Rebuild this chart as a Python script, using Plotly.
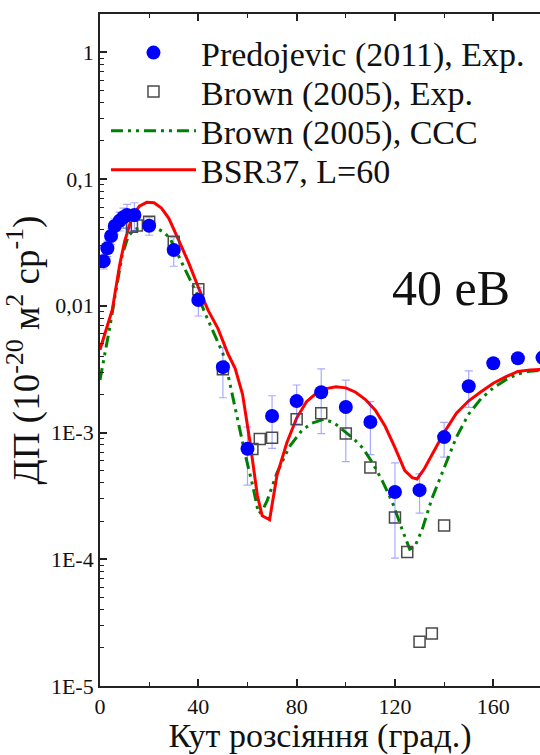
import plotly.graph_objects as go

# ---------------- data ----------------
pred_angle = [1.5, 3, 4.5, 6, 8, 9.5, 11, 14, 20, 30, 40, 50, 60, 70, 80, 90, 100, 110, 120, 130, 140, 150, 160, 170, 180]
pred_dcs = [0.0225, 0.0284, 0.0355, 0.0426, 0.0469, 0.0499, 0.052, 0.052, 0.0428, 0.0275, 0.0111, 3.28e-3,
            7.45e-4, 1.35e-3, 1.77e-3, 2.08e-3, 1.59e-3, 1.21e-3, 3.39e-4, 3.51e-4, 9.2e-4, 2.32e-3,
            3.52e-3, 3.85e-3, 3.9e-3]
pred_err = [0.003, 0.004, 0.005, 0.006, 0.008, 0.009, 0.011, 0.013, 0.0068, 0.007, 0.0028, 0.0014,
            3.6e-4, 6e-4, 6e-4, 1.1e-3, 1.0e-3, 5.4e-4, 2.37e-4, 1.2e-4, 2.8e-4, 7.4e-4, 3e-4, 3e-4, 3e-4]

brown_angle = [13, 15, 20, 30, 40, 50, 62, 65, 70, 80, 90, 100, 110, 120, 125, 130, 135, 140]
brown_dcs = [0.042, 0.043, 0.046, 0.032, 0.0135, 3.15e-3, 7.4e-4, 8.9e-4, 9.1e-4, 1.27e-3, 1.42e-3,
             9.8e-4, 5.3e-4, 2.14e-4, 1.14e-4, 2.23e-5, 2.6e-5, 1.85e-4]

ccc_angle = [0, 2, 4, 7, 9, 11.5, 14, 17, 20, 23, 26, 28.5, 31, 34, 37, 40, 43, 46, 50, 52, 54, 56, 59,
             62, 64.5, 66, 68, 72, 77, 82, 86, 91, 95, 99, 103, 107, 111, 115, 119, 123, 126, 128, 131,
             135, 138, 141, 145, 150, 155, 160, 165, 170, 175, 180]
ccc_dcs = [2.6e-3, 4.2e-3, 6.8e-3, 0.015, 0.025, 0.0355, 0.040, 0.042, 0.043, 0.041, 0.038, 0.034, 0.027,
           0.020, 0.0155, 0.0118, 8.5e-3, 6.2e-3, 4.2e-3, 2.9e-3, 1.9e-3, 1.3e-3, 6.8e-4, 3.9e-4, 2.3e-4,
           2.4e-4, 2.9e-4, 4.8e-4, 7.7e-4, 1.03e-3, 1.18e-3, 1.27e-3, 1.2e-3, 1.04e-3, 9.0e-4, 7.5e-4,
           5.7e-4, 4.1e-4, 2.8e-4, 1.7e-4, 1.2e-4, 1.25e-4, 1.7e-4, 3.0e-4, 4.2e-4, 6.0e-4, 9.2e-4,
           1.4e-3, 1.85e-3, 2.25e-3, 2.6e-3, 2.9e-3, 3.05e-3, 3.1e-3]

bsr_angle = [0, 2, 5, 8, 10, 13, 16, 19, 22, 25, 28, 32, 36, 40, 44, 48, 52, 55, 58, 61, 64, 66, 69, 72,
             76, 80, 84, 88, 92, 96, 100, 104, 108, 112, 116, 120, 124, 127, 129, 132, 136, 140, 145, 150,
             155, 160, 165, 170, 175, 180]
bsr_dcs = [4.5e-3, 6.0e-3, 9.3e-3, 0.021, 0.032, 0.050, 0.061, 0.0655, 0.065, 0.059, 0.049, 0.033, 0.022,
           0.014, 9.2e-3, 6.6e-3, 4.2e-3, 3.2e-3, 2.0e-3, 8.5e-4, 3.2e-4, 2.2e-4, 2.05e-4, 4.6e-4, 8.3e-4,
           1.3e-3, 1.75e-3, 2.04e-3, 2.22e-3, 2.3e-3, 2.25e-3, 2.08e-3, 1.82e-3, 1.5e-3, 1.12e-3, 7.6e-4,
           5.0e-4, 4.4e-4, 4.3e-4, 5.2e-4, 7.2e-4, 1.0e-3, 1.42e-3, 1.78e-3, 2.1e-3, 2.45e-3, 2.75e-3,
           3.03e-3, 3.12e-3, 3.15e-3]

y_tickvals = [1, 0.1, 0.01, 1e-3, 1e-4, 1e-5]
y_ticktext = ["1", "0,1", "0,01", "1E-3", "1E-4", "1E-5"]
x_tickvals = [0, 40, 80, 120, 160]

FONT = "Liberation Serif"
AX = "#222222"
TXT = "#111111"

y_minor = [m * 10.0 ** k for k in range(-5, 1) for m in range(2, 10) if m * 10.0 ** k <= 2.0]

# legend rows (paper y) for each entry
leg_y = {"legend": 0.942, "legend2": 0.884, "legend3": 0.8256, "legend4": 0.7675}
LEG_X = 0.0136

fig = go.Figure()

fig.add_trace(go.Scatter(
    x=ccc_angle, y=ccc_dcs, mode="lines", name="Brown (2005), CCC", legend="legend3",
    line=dict(color="#008000", width=3, dash="12px,5px,3px,5px,3px,5px")))
fig.add_trace(go.Scatter(
    x=bsr_angle, y=bsr_dcs, mode="lines", name="BSR37, L=60", legend="legend4",
    line=dict(color="#ff0000", width=3)))
fig.add_trace(go.Scatter(
    x=brown_angle, y=brown_dcs, mode="markers", name="Brown (2005), Exp.", legend="legend2",
    marker=dict(symbol="square-open", size=11, color="#4a4a4a", line=dict(width=1.5, color="#4a4a4a"))))
fig.add_trace(go.Scatter(
    x=pred_angle, y=pred_dcs, mode="markers", name="Predojevic (2011), Exp.", legend="legend",
    marker=dict(symbol="circle", size=14, color="#0000ff"),
    error_y=dict(type="data", array=pred_err, arrayminus=pred_err, color="rgba(40,40,255,0.4)",
                 thickness=1.2, width=4)))

legends = {}
for key, yv in leg_y.items():
    legends[key] = dict(x=LEG_X, y=yv, xanchor="left", yanchor="middle", bgcolor="rgba(0,0,0,0)",
                        font=dict(family=FONT, size=34, color=TXT), itemwidth=85)

fig.update_layout(
    width=540, height=755,
    margin=dict(l=100, r=0, t=14, b=69),
    paper_bgcolor="white", plot_bgcolor="white",
    font=dict(family=FONT, color=TXT),
    showlegend=True,
    **legends,
    xaxis=dict(range=[0, 179.0], tickmode="array", tickvals=x_tickvals,
               ticks="inside", ticklen=7, tickwidth=1.5, tickcolor=AX,
               showline=True, linewidth=1.8, linecolor=AX, mirror="ticks",
               showgrid=False, zeroline=False,
               minor=dict(ticks="inside", ticklen=4, tickwidth=1.3, tickcolor=AX,
                          tickmode="array", tickvals=[20, 60, 100, 140]),
               tickfont=dict(family=FONT, size=22, color=TXT),
               title=dict(text="Кут розсіяння (град.)", font=dict(family=FONT, size=34, color=TXT),
                          standoff=6)),
    yaxis=dict(type="log", range=[-5, 0.302], tickmode="array", tickvals=y_tickvals, ticktext=y_ticktext,
               ticks="inside", ticklen=7, tickwidth=1.5, tickcolor=AX,
               showline=True, linewidth=1.8, linecolor=AX, mirror=False,
               showgrid=False, zeroline=False,
               minor=dict(ticks="inside", ticklen=4, tickwidth=1.3, tickcolor=AX,
                          tickmode="array", tickvals=y_minor),
               tickfont=dict(family=FONT, size=22, color=TXT),
               title=dict(text="ДП (10<sup>-20</sup> м<sup>2</sup> ср<sup>-1</sup>)",
                          font=dict(family=FONT, size=37, color=TXT), standoff=8)),
    yaxis2=dict(type="log", range=[-5, 0.302], overlaying="y", side="right", anchor="x",
                tickmode="array", tickvals=y_tickvals, showticklabels=False,
                ticks="inside", ticklen=4, tickwidth=1.5, tickcolor=AX,
                showline=False, showgrid=False, zeroline=False,
                minor=dict(ticks="inside", ticklen=2.5, tickwidth=1.3, tickcolor=AX,
                           tickmode="array", tickvals=y_minor)),
)

fig.add_annotation(text="40 eB", xref="paper", yref="paper", x=0.798, y=0.592,
                   xanchor="center", yanchor="middle", showarrow=False,
                   font=dict(family=FONT, size=50, color=TXT))

# remove the default page margin so the 540x755 figure fills the window exactly
fig.write_html("out.html",
               config={"displayModeBar": False},
               post_script="document.body.style.margin='0';"
                           "document.body.style.overflow='hidden';"
                           "document.documentElement.style.overflow='hidden';")
